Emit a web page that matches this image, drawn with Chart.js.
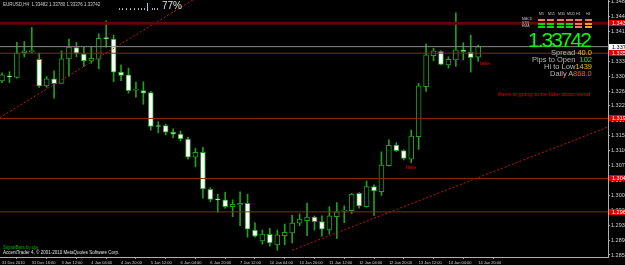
<!DOCTYPE html>
<html>
<head>
<meta charset="utf-8">
<script src="https://cdn.jsdelivr.net/npm/chart.js@4.4.0/dist/chart.umd.min.js"></script>
<style>
html, body { margin: 0; padding: 0; background: #000; }
#wrap { position: relative; width: 625px; height: 265px; overflow: hidden; background: #000;
        font-family: "Liberation Sans", Arial, sans-serif; }
#chart { position: absolute; left: 0; top: 0; }
.t { position: absolute; white-space: nowrap; line-height: 1; }
.sb { position: absolute; width: 7px; height: 2px; }
</style>
</head>
<body>
<div id="wrap">
  <canvas id="chart" width="625" height="265"></canvas>

  <div class="t" style="left:3px;top:3px;font-size:4.5px;color:#d0d0d0;">EURUSD,H4&nbsp; 1.33482 1.33780 1.33376 1.33742</div>
  <div id="ticks"></div>
  <div class="t" style="left:162px;top:1px;font-size:10px;color:#e0e0e0;">77%</div>

  <div id="panel"></div>
  <div class="t" style="left:528px;top:29px;font-size:21px;letter-spacing:-2px;color:#00ff00;">1.33742</div>
  <div class="t" style="right:33px;top:49px;font-size:7.5px;color:#b8b8b8;">Spread <span style="color:#f0c800">40.0</span></div>
  <div class="t" style="right:33px;top:56px;font-size:7.5px;color:#b8b8b8;">Pips to Open&nbsp; <span style="color:#00ff00">102</span></div>
  <div class="t" style="right:33px;top:63px;font-size:7.5px;color:#b8b8b8;">Hi to Low<span style="color:#f0c000">1439</span></div>
  <div class="t" style="left:550px;top:70px;font-size:7.5px;color:#b8b8b8;">Daily A</div>
  <div class="t" style="left:573px;top:70px;font-size:7.5px;color:#ff5a1e;">868.0</div>

  <div class="t" style="left:480px;top:61px;font-size:5.5px;color:#e00000;">fake</div>
  <div class="t" style="left:406px;top:165px;font-size:5.5px;color:#e00000;">fake</div>
  <div class="t" style="left:498px;top:92px;font-size:5.8px;color:#e00000;">there is going to be fake down trend</div>

  <div class="t" style="left:3px;top:246px;font-size:4.5px;color:#00b000;">SignalBars by cja</div>
  <div class="t" style="left:3px;top:250.5px;font-size:4.5px;color:#e0e0e0;">AccentTrader 4, © 2001-2010 MetaQuotes Software Corp.</div>
</div>

<script>
// H4 candles, 31 Dec 2010 00:00 .. 14 Jan 2011 20:00
var opens = [
  1.3289, 1.3302, 1.3298, 1.3359, 1.3362, 1.3343, 1.3277, 1.3294, 1.3283, 1.3344,
  1.3372, 1.3356, 1.3339, 1.3343, 1.3396, 1.3393, 1.3311, 1.3304, 1.3266, 1.3265,
  1.3260, 1.3177, 1.3178, 1.3162, 1.3157, 1.3145, 1.3100, 1.3112, 1.3020, 1.2995,
  1.2994, 1.2977, 1.2981, 1.2985, 1.2919, 1.2892, 1.2908, 1.2882, 1.2905, 1.2912,
  1.2936, 1.2942, 1.2951, 1.2940, 1.2919, 1.2952, 1.2966, 1.2967, 1.3010, 1.2977,
  1.3027, 1.3014, 1.3079, 1.3130, 1.3116, 1.3095, 1.3151, 1.3275, 1.3352, 1.3362,
  1.3329, 1.3341, 1.3366, 1.3360, 1.33482
];
var highs = [
  1.3309, 1.3312, 1.3385, 1.3387, 1.3422, 1.3358, 1.3300, 1.3314, 1.3364, 1.3393,
  1.3385, 1.3373, 1.3373, 1.3406, 1.3438, 1.3403, 1.3329, 1.3321, 1.3286, 1.3287,
  1.3263, 1.3188, 1.3182, 1.3170, 1.3165, 1.3150, 1.3122, 1.3124, 1.3024, 1.3008,
  1.3013, 1.2994, 1.3014, 1.3008, 1.2937, 1.2919, 1.2923, 1.2919, 1.2934, 1.2956,
  1.2959, 1.2986, 1.2954, 1.2954, 1.2977, 1.2987, 1.2979, 1.3010, 1.3012, 1.3041,
  1.3031, 1.3113, 1.3143, 1.3136, 1.3118, 1.3167, 1.3283, 1.3381, 1.3370, 1.3364,
  1.3349, 1.3458, 1.3384, 1.3403, 1.33780
];
var lows = [
  1.3285, 1.3285, 1.3296, 1.3349, 1.3359, 1.3273, 1.3273, 1.3246, 1.3282, 1.3300,
  1.3349, 1.3325, 1.3333, 1.3319, 1.3373, 1.3287, 1.3290, 1.3259, 1.3249, 1.3231,
  1.3167, 1.3160, 1.3155, 1.3148, 1.3140, 1.3095, 1.3076, 1.2998, 1.2989, 1.2963,
  1.2973, 1.2952, 1.2930, 1.2901, 1.2901, 1.2884, 1.2879, 1.2869, 1.2882, 1.2887,
  1.2930, 1.2905, 1.2919, 1.2904, 1.2909, 1.2898, 1.2937, 1.2960, 1.2973, 1.2976,
  1.2955, 1.3005, 1.3078, 1.3114, 1.3093, 1.3086, 1.3119, 1.3263, 1.3339, 1.3329,
  1.3321, 1.3325, 1.3341, 1.3311, 1.33376
];
var closes = [
  1.3304, 1.3299, 1.3358, 1.3364, 1.3364, 1.3277, 1.3294, 1.3282, 1.3344, 1.3373,
  1.3358, 1.3339, 1.3345, 1.3395, 1.3394, 1.3311, 1.3303, 1.3265, 1.3267, 1.3259,
  1.3176, 1.3176, 1.3162, 1.3157, 1.3145, 1.3100, 1.3112, 1.3021, 1.2995, 1.2994,
  1.2977, 1.2983, 1.2985, 1.2921, 1.2904, 1.2909, 1.2887, 1.2907, 1.2913, 1.2936,
  1.2946, 1.2951, 1.2940, 1.2921, 1.2954, 1.2964, 1.2967, 1.3008, 1.2979, 1.3027,
  1.3016, 1.3080, 1.3129, 1.3116, 1.3097, 1.3152, 1.3277, 1.3354, 1.3364, 1.3330,
  1.3343, 1.3366, 1.3362, 1.3347, 1.33742
];

// time labels, one every 4 bars
var timeLabels = ['31 Dec 2010', '31 Dec 16:00', '3 Jan 12:00', '4 Jan 04:00', '4 Jan 20:00',
  '5 Jan 12:00', '6 Jan 04:00', '6 Jan 20:00', '7 Jan 12:00', '10 Jan 04:00', '10 Jan 20:00',
  '11 Jan 12:00', '12 Jan 04:00', '12 Jan 20:00', '13 Jan 12:00', '14 Jan 04:00', '14 Jan 20:00'];
var priceTicks = [1.34860, 1.34490, 1.34120, 1.33750, 1.33380, 1.33010, 1.32640, 1.32270, 1.31900,
  1.31530, 1.31160, 1.30790, 1.30420, 1.30050, 1.29680, 1.29310, 1.28940, 1.28570];

// horizontal levels and trend lines drawn on the chart
var levels = [1.3432, 1.3358, 1.3196, 1.3047, 1.2964];
var bid = 1.33742;
var trendUp1 = [{x: -0.3, y: 1.3198}, {x: 26.2, y: 1.3496}];
var trendUp2 = [{x: 39, y: 1.2869}, {x: 81.5, y: 1.3175}];

var xMin = -0.27, xMax = 81.45, yMin = 1.2852, yMax = 1.3490;
var green = '#1fa01f';

var wicks = lows.map(function (l, i) { return {x: i, y: [l, highs[i]]}; });
var bodies = opens.map(function (o, i) { return {x: i, y: [o, closes[i]]}; });
var bodyFill = opens.map(function (o, i) { return closes[i] < o ? '#ffffff' : '#000000'; });

function hline(v) { return [{x: xMin, y: v}, {x: xMax, y: v}]; }

var datasets = [
  {type: 'bar', data: wicks, backgroundColor: green, borderWidth: 0, barThickness: 1,
   grouped: false, order: 3},
  {type: 'bar', data: bodies, backgroundColor: bodyFill, borderColor: green, borderWidth: 1,
   borderSkipped: false, barThickness: 5, minBarLength: 1, grouped: false, order: 2},
  {type: 'line', data: hline(bid), borderColor: '#8c8c8c', borderWidth: 1, pointRadius: 0, order: 1},
  {type: 'line', data: trendUp1, borderColor: '#c01818', borderWidth: 1, borderDash: [2, 2], pointRadius: 0, order: 1},
  {type: 'line', data: trendUp2, borderColor: '#c01818', borderWidth: 1, borderDash: [2, 2], pointRadius: 0, order: 1}
];
levels.forEach(function (v, k) {
  datasets.push({type: 'line', data: hline(v), pointRadius: 0, order: 0,
    borderColor: k === 0 ? '#5a0808' : '#a02010', borderWidth: k === 0 ? 3 : 1});
});

// price tags on the right axis
var tags = {
  id: 'tags',
  afterDraw: function (chart) {
    var ctx = chart.ctx, ys = chart.scales.y, x0 = chart.chartArea.right + 1;
    ctx.save();
    ctx.font = '5.5px "Liberation Sans"';
    ctx.textBaseline = 'middle';
    levels.forEach(function (v) {
      var y = Math.round(ys.getPixelForValue(v));
      ctx.fillStyle = '#e00000';
      ctx.fillRect(x0, y - 3, 20, 6);
      ctx.fillStyle = '#ffffff';
      ctx.fillText(v.toFixed(5), x0 + 3, y + 0.5);
    });
    var yb = Math.round(ys.getPixelForValue(bid));
    ctx.fillStyle = '#ffffff';
    ctx.fillRect(x0, yb - 3, 20, 6);
    ctx.fillStyle = '#000000';
    ctx.fillText(bid.toFixed(5), x0 + 3, yb + 0.5);
    ctx.restore();
  }
};

new Chart(document.getElementById('chart'), {
  type: 'bar',
  data: {datasets: datasets},
  options: {
    responsive: false,
    animation: false,
    layout: {padding: 0},
    plugins: {legend: {display: false}, tooltip: {enabled: false}},
    scales: {
      x: {
        type: 'linear', min: xMin, max: xMax, offset: false,
        grid: {drawOnChartArea: false, drawTicks: true, tickLength: 2, color: '#a0a0a0'},
        border: {display: true, color: '#b0b0b0'},
        ticks: {
          autoSkip: false, maxRotation: 0, align: 'start', padding: 1,
          color: '#d0d0d0', font: {size: 4, family: 'Liberation Sans'},
          callback: function (v) { return timeLabels[v / 4]; }
        },
        afterBuildTicks: function (s) {
          s.ticks = timeLabels.map(function (t, k) { return {value: k * 4}; });
        },
        afterFit: function (s) { s.height = 8; s.paddingLeft = 0; s.paddingRight = 0; }
      },
      y: {
        type: 'linear', position: 'right', min: yMin, max: yMax,
        grid: {drawOnChartArea: false, drawTicks: true, tickLength: 2, color: '#a0a0a0'},
        border: {display: true, color: '#b0b0b0'},
        ticks: {
          padding: 1, color: '#d0d0d0', font: {size: 5.5, family: 'Liberation Sans'},
          callback: function (v) { return v.toFixed(5); }
        },
        afterBuildTicks: function (s) {
          s.ticks = priceTicks.map(function (v) { return {value: v}; });
        },
        afterFit: function (s) { s.width = 17; s.paddingTop = 0; s.paddingBottom = 0; }
      }
    }
  },
  plugins: [tags]
});

// small tick strip near the top and the signal panel
var tickXs = [119, 122, 126, 130, 134, 138, 141, 144, 152, 154, 157];
var tickBox = document.getElementById('ticks');
tickXs.forEach(function (x) {
  var d = document.createElement('div');
  d.style.cssText = 'position:absolute;left:' + x + 'px;top:8px;width:1px;height:2px;background:#b0b0b0;';
  tickBox.appendChild(d);
});
var blue = document.createElement('div');
blue.style.cssText = 'position:absolute;left:147px;top:3px;width:1px;height:8px;background:#9ad0ff;';
tickBox.appendChild(blue);

var tfNames = ['M5', 'M15', 'M30', 'MDD', 'H1', 'H4'];
var rowNames = ['MACD', 'STR', 'EMA'];
var cellColors = [
  ['#f07860', '#f07860', '#f07860', '#f07860', '#f07860', '#f07860'],
  ['#00e000', '#00e000', '#00e000', '#00e000', '#f07860', '#f0a030'],
  ['#00e000', '#00e000', '#00e000', '#00e000', '#f07860', '#f0a030']
];
var panel = document.getElementById('panel');
var colX = [538, 547, 557, 566, 575, 585];
tfNames.forEach(function (n, c) {
  var d = document.createElement('div');
  d.className = 't';
  d.style.cssText = 'left:' + (colX[c] + 1) + 'px;top:13px;font-size:3.5px;color:#c0c0c0;';
  d.textContent = n;
  panel.appendChild(d);
});
rowNames.forEach(function (n, r) {
  var d = document.createElement('div');
  d.className = 't';
  d.style.cssText = 'left:522px;top:' + (18 + r * 3.5) + 'px;font-size:3.5px;color:#c0c0c0;';
  d.textContent = n;
  panel.appendChild(d);
  cellColors[r].forEach(function (col, c) {
    var b = document.createElement('div');
    b.className = 'sb';
    b.style.left = colX[c] + 'px';
    b.style.top = (19 + r * 3.5) + 'px';
    b.style.background = col;
    panel.appendChild(b);
  });
});
</script>
</body>
</html>
